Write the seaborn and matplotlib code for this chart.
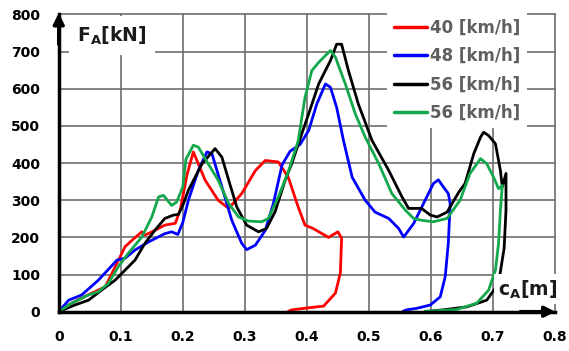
import matplotlib
matplotlib.use("Agg")
import matplotlib.pyplot as plt
import seaborn as sns
import pandas as pd

# ---------------- data ----------------
red_x = [0, 0.021, 0.047, 0.075, 0.099, 0.107, 0.12, 0.134, 0.139, 0.155, 0.171, 0.188,
         0.196, 0.207, 0.217, 0.236, 0.257, 0.274, 0.295, 0.317, 0.333, 0.354, 0.37,
         0.386, 0.397, 0.41, 0.435, 0.45, 0.456, 0.454, 0.446, 0.427, 0.4, 0.376, 0.37]
red_y = [0, 23, 45, 67, 148, 175, 195, 215, 206, 219, 233, 238,
         275, 370, 430, 354, 300, 278, 318, 380, 407, 403, 362,
         282, 233, 224, 200, 215, 198, 104, 50, 15, 10, 5, 1]

blue_x = [0, 0.016, 0.037, 0.064, 0.094, 0.107, 0.123, 0.145, 0.171, 0.182, 0.192, 0.2,
          0.209, 0.225, 0.239, 0.247, 0.263, 0.279, 0.295, 0.303, 0.317, 0.333, 0.346,
          0.36, 0.373, 0.389, 0.403, 0.416, 0.43, 0.438, 0.448, 0.459, 0.473, 0.494,
          0.51, 0.532, 0.548, 0.556, 0.572, 0.588, 0.604, 0.612, 0.62, 0.628, 0.631,
          0.628, 0.623, 0.615, 0.599, 0.577, 0.561, 0.555]
blue_y = [0, 31, 45, 85, 139, 144, 166, 188, 210, 215, 208, 240,
          300, 380, 430, 425, 336, 246, 184, 167, 179, 219, 291,
          395, 432, 450, 488, 559, 613, 604, 550, 461, 362, 300,
          268, 251, 224, 201, 237, 291, 345, 355, 336, 318, 291,
          184, 94, 40, 18, 9, 5, 1]

black_x = [0, 0.026, 0.048, 0.069, 0.091, 0.107, 0.123, 0.139, 0.155, 0.171, 0.185, 0.193,
           0.2, 0.209, 0.231, 0.252, 0.263, 0.274, 0.287, 0.303, 0.322, 0.335, 0.349,
           0.365, 0.376, 0.392, 0.403, 0.419, 0.438, 0.448, 0.456, 0.467, 0.483, 0.505,
           0.532, 0.553, 0.564, 0.585, 0.599, 0.61, 0.626, 0.645, 0.655, 0.669, 0.68,
           0.685, 0.693, 0.704, 0.712, 0.715, 0.721, 0.721, 0.718, 0.709, 0.69, 0.658,
           0.62, 0.595]
black_y = [0, 18, 31, 58, 85, 112, 139, 184, 219, 251, 260, 262,
           286, 327, 398, 439, 416, 354, 282, 233, 215, 224, 270,
           354, 400, 480, 533, 613, 676, 720, 720, 649, 559, 461,
           380, 310, 278, 278, 260, 255, 268, 322, 345, 425, 470,
           483, 474, 452, 380, 336, 372, 273, 171, 76, 31, 13,
           5, 1]

green_x = [0, 0.021, 0.048, 0.064, 0.08, 0.096, 0.112, 0.134, 0.15, 0.161, 0.169, 0.182,
           0.19, 0.2, 0.205, 0.217, 0.225, 0.241, 0.257, 0.274, 0.29, 0.306, 0.327,
           0.338, 0.354, 0.37, 0.386, 0.397, 0.408, 0.419, 0.438, 0.446, 0.462, 0.478,
           0.494, 0.516, 0.537, 0.559, 0.572, 0.585, 0.604, 0.626, 0.647, 0.663, 0.68,
           0.69, 0.701, 0.709, 0.715, 0.712, 0.709, 0.704, 0.693, 0.674, 0.642, 0.604, 0.59]
green_y = [0, 23, 45, 54, 76, 121, 157, 201, 255, 309, 313, 286,
           295, 336, 410, 448, 443, 398, 354, 291, 255, 244, 242,
           251, 309, 376, 460, 577, 649, 671, 703, 685, 613, 533,
           470, 398, 318, 273, 251, 246, 242, 251, 300, 372, 412,
           398, 362, 331, 340, 273, 184, 112, 58, 23, 6, 2, 1]

series_labels = ["40 [km/h]", "48 [km/h]", "56 [km/h]", "56 [km/h]"]
series_colors = ["#ff0000", "#0000ff", "#000000", "#13a84c"]

x_ticks = [0, 0.1, 0.2, 0.3, 0.4, 0.5, 0.6, 0.7, 0.8]
x_ticklabels = ["0", "0.1", "0.2", "0.3", "0.4", "0.5", "0.6", "0.7", "0.8"]
y_ticks = [0, 100, 200, 300, 400, 500, 600, 700, 800]
y_ticklabels = [str(v) for v in y_ticks]

# ---------------- plot ----------------
sns.set_style("white")
plt.rcParams["font.family"] = ["DejaVu Sans"]
plt.rcParams["mathtext.fontset"] = "dejavusans"

fig = plt.figure(figsize=(5.69, 3.51), dpi=100)
ax = fig.add_axes([0.1032, 0.112, 0.8722, 0.8467])

GRID_COL = "#6e6e6e"
for t in x_ticks:
    ax.axvline(t, color=GRID_COL, linewidth=1.2, zorder=1, clip_on=False)
for t in y_ticks:
    ax.axhline(t, color=GRID_COL, linewidth=1.2, zorder=1, clip_on=False)

all_x = [red_x, blue_x, black_x, green_x]
all_y = [red_y, blue_y, black_y, green_y]
for xs, ys, lab, col in zip(all_x, all_y, series_labels, series_colors):
    df = pd.DataFrame({"x": xs, "y": ys})
    sns.lineplot(data=df, x="x", y="y", sort=False, estimator=None, color=col,
                 linewidth=2.0, label=lab, ax=ax, zorder=3,
                 solid_joinstyle="round", solid_capstyle="round")

ax.set_xlim(x_ticks[0], x_ticks[-1])
ax.set_ylim(y_ticks[0], y_ticks[-1])
ax.set_xticks(x_ticks)
ax.set_xticklabels(x_ticklabels)
ax.set_yticks(y_ticks)
ax.set_yticklabels(y_ticklabels)
ax.set_xlabel("")
ax.set_ylabel("")
ax.tick_params(length=0, pad=13.5, labelsize=10, labelcolor="black")
for lbl in ax.get_xticklabels() + ax.get_yticklabels():
    lbl.set_fontweight("bold")

ax.spines["top"].set_visible(False)
ax.spines["right"].set_visible(False)
for s in ["left", "bottom"]:
    ax.spines[s].set_color("black")
    ax.spines[s].set_linewidth(2.5)
    ax.spines[s].set_zorder(5)

# arrows
ax.annotate("", xy=(0, 1.005), xytext=(0, 0.9), xycoords="axes fraction",
            arrowprops=dict(arrowstyle="-|>", color="black", lw=2.5, mutation_scale=16,
                            shrinkA=0, shrinkB=0), zorder=7, annotation_clip=False)
ax.annotate("", xy=(1.001, 0), xytext=(0.93, 0), xycoords="axes fraction",
            arrowprops=dict(arrowstyle="-|>", color="black", lw=2.5, mutation_scale=16,
                            shrinkA=0, shrinkB=0), zorder=7, annotation_clip=False)

# axis labels on white boxes (text bbox, no separate patches)
ax.text(0.037, 0.928, r"$\mathbf{F_A[kN]}$", transform=ax.transAxes, fontsize=13.5,
        ha="left", va="center", color="#1a1a1a", zorder=6,
        bbox=dict(boxstyle="square,pad=0.45", facecolor="white", edgecolor="none"))
ax.text(1.004, 0.075, r"$\mathbf{c_A[m]}$", transform=ax.transAxes, fontsize=13.5,
        ha="right", va="center", color="#1a1a1a", zorder=6,
        bbox=dict(boxstyle="square,pad=0.2", facecolor="white", edgecolor="none"))

leg = ax.legend(loc="upper left", bbox_to_anchor=(0.6615, 1.008), borderaxespad=0,
                borderpad=0.4, handlelength=2.0, handletextpad=0.2, labelspacing=0.62,
                frameon=True, fancybox=False, framealpha=1, facecolor="white",
                edgecolor="none", labelcolor="#5f5f5f",
                prop={"weight": "bold", "size": 12})
leg.set_zorder(6)
for h in leg.get_lines():
    h.set_linewidth(2.5)

fig.savefig("out.png", dpi=100)
